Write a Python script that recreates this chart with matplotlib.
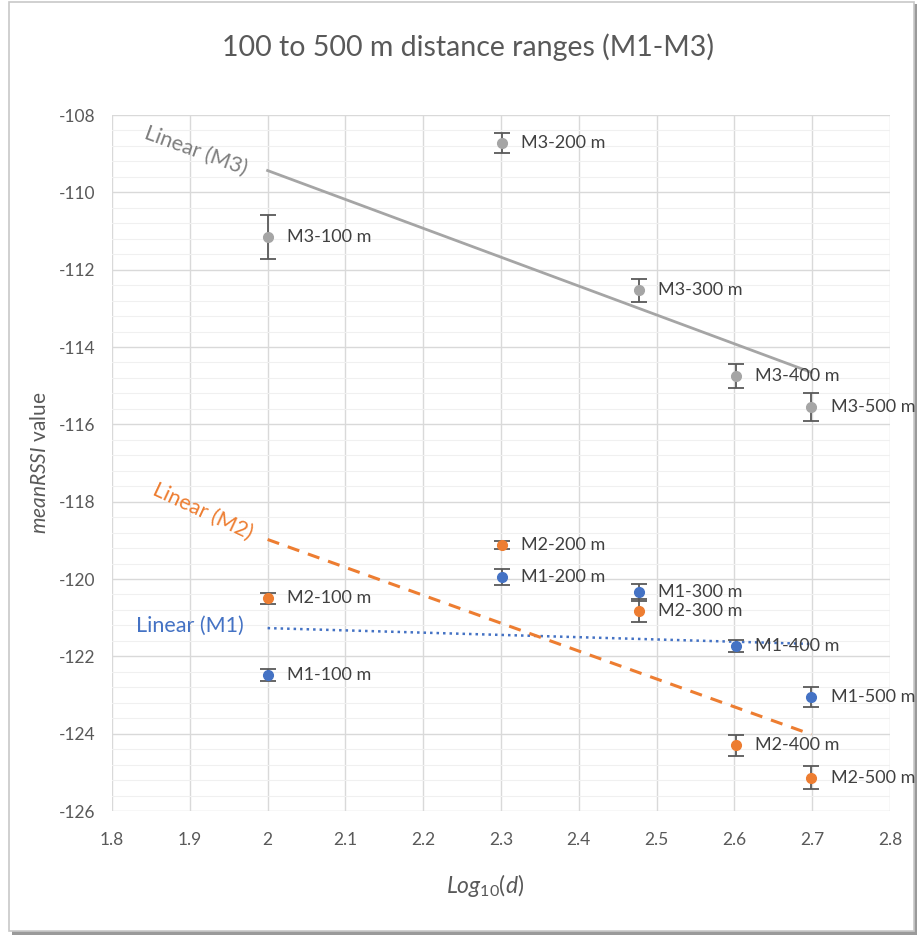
import numpy as np
import matplotlib
matplotlib.use("Agg")
import matplotlib.pyplot as plt
from matplotlib.patches import Rectangle
from matplotlib.ticker import MultipleLocator

plt.rcParams['font.family'] = ['Lato', 'DejaVu Sans']
plt.rcParams['mathtext.fontset'] = 'custom'
plt.rcParams['mathtext.rm'] = 'Lato'
plt.rcParams['mathtext.it'] = 'Lato:italic'
plt.rcParams['mathtext.bf'] = 'Lato:bold'
plt.rcParams['axes.unicode_minus'] = False

# ---- data ----
log_d = [2.0, 2.30103, 2.47712, 2.60206, 2.69897]
distances = ["100", "200", "300", "400", "500"]
m1_mean = [-122.49, -119.95, -120.34, -121.74, -123.05]
m1_err = [0.15, 0.2, 0.22, 0.15, 0.25]
m2_mean = [-120.50, -119.13, -120.82, -124.30, -125.14]
m2_err = [0.15, 0.1, 0.3, 0.27, 0.3]
m3_mean = [-111.16, -108.72, -112.53, -114.75, -115.55]
m3_err = [0.57, 0.25, 0.3, 0.3, 0.37]
x_ticks = [1.8, 1.9, 2.0, 2.1, 2.2, 2.3, 2.4, 2.5, 2.6, 2.7, 2.8]
x_tick_labels = ["1.8", "1.9", "2", "2.1", "2.2", "2.3", "2.4", "2.5", "2.6", "2.7", "2.8"]
y_ticks = [-126, -124, -122, -120, -118, -116, -114, -112, -110, -108]

C_BLUE = "#4472C4"
C_ORANGE = "#ED7D31"
C_GRAY = "#A5A5A5"
TXT = "#595959"

fig = plt.figure(figsize=(9.19, 9.38), dpi=100)

# chart frame with shadow
fig.patches.append(Rectangle((12/919, 1-935/938), 905/919, 931/938, transform=fig.transFigure,
                             facecolor="#9a9a9a", edgecolor="none", zorder=-3))
fig.patches.append(Rectangle((9/919, 1-931/938), 905/919, 929/938, transform=fig.transFigure,
                             facecolor="white", edgecolor="#c8c8c8", linewidth=1.2, zorder=-2))

ax = fig.add_axes([112/919, 1-811/938, (890-112)/919, (811-115)/938])
ax.set_zorder(2)
ax.set_facecolor("none")
ax.set_xlim(1.8, 2.8)
ax.set_ylim(-126, -108)
ax.set_xticks(x_ticks)
ax.set_xticklabels(x_tick_labels)
ax.set_yticks(y_ticks)
ax.yaxis.set_minor_locator(MultipleLocator(0.4))
ax.grid(True, which="major", color="#d9d9d9", linewidth=1.0)
ax.grid(True, which="minor", axis="y", color="#f0f0f0", linewidth=0.8)
ax.set_axisbelow(True)
for s in ax.spines.values():
    s.set_visible(False)
ax.tick_params(which="both", length=0, labelsize=12.5, colors=TXT)
ax.tick_params(axis="x", pad=15)
ax.tick_params(axis="y", pad=12)

series = [("M1", m1_mean, m1_err, C_BLUE), ("M2", m2_mean, m2_err, C_ORANGE), ("M3", m3_mean, m3_err, C_GRAY)]
for name, ys, es, col in series:
    ax.errorbar(log_d, ys, yerr=es, fmt="o", color=col, markersize=7, ecolor="#595959",
                elinewidth=1.3, capsize=6, capthick=1.3, zorder=4)
    for x, y, d in zip(log_d, ys, distances):
        ax.annotate(f"{name}-{d} m", (x, y), xytext=(14, 0), textcoords="offset points",
                    va="center", ha="left", fontsize=13, color="#404040", zorder=5)

# linear trend lines (least squares, as in Excel)
xs = np.array(log_d)
xl = np.array([xs.min(), xs.max()])
p1 = np.polyfit(xs, m1_mean, 1)
p2 = np.polyfit(xs, m2_mean, 1)
p3 = np.polyfit(xs, m3_mean, 1)
ax.plot(xl, np.polyval(p1, xl), color=C_BLUE, linestyle=(0, (1, 1.6)), linewidth=1.8, zorder=3)
ax.plot(xl, np.polyval(p2, xl), color=C_ORANGE, linestyle=(0, (4, 3)), linewidth=2.2, zorder=3)
ax.plot(xl, np.polyval(p3, xl), color=C_GRAY, linestyle="-", linewidth=2.0, zorder=3)

ax.text(1.908, -108.93, "Linear (M3)", rotation=-20, color="#7f7f7f", fontsize=15.5,
        ha="center", va="center")
ax.text(1.917, -118.25, "Linear (M2)", rotation=-25, color=C_ORANGE, fontsize=15.5,
        ha="center", va="center")
ax.text(1.9, -121.2, "Linear (M1)", rotation=0, color=C_BLUE, fontsize=15.5,
        ha="center", va="center")

fig.text(468/919, 1-47/938, "100 to 500 m distance ranges (M1-M3)", ha="center", va="center",
         fontsize=20.5, color=TXT)
fig.text(40/919, 1-463/938, r"$\it{meanRSSI}$ value", rotation=90, ha="center", va="center",
         fontsize=15, color=TXT)
fig.text(485/919, 1-885/938, r"$\it{Log}_{\it{10}}\it{(d)}$", ha="center", va="center",
         fontsize=16.5, color=TXT)

fig.savefig("out.png", dpi=100)
